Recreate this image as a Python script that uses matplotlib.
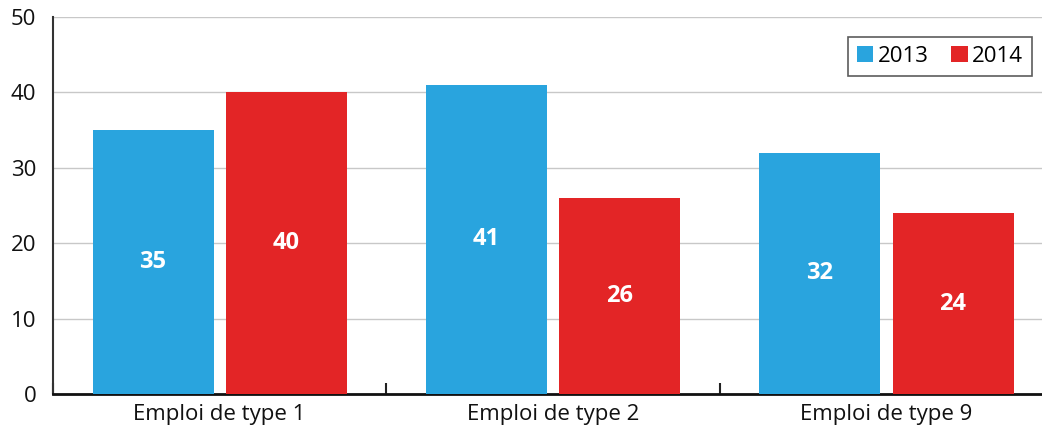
import matplotlib
matplotlib.use("Agg")
import matplotlib.pyplot as plt
import numpy as np

categories = ["Emploi de type 1", "Emploi de type 2", "Emploi de type 9"]
series_names = ["2013", "2014"]
values_2013 = [35, 41, 32]
values_2014 = [40, 26, 24]
yticks = [0, 10, 20, 30, 40, 50]

blue = "#29A4DE"
red = "#E32526"

plt.rcParams['font.family'] = ['Open Sans', 'DejaVu Sans']

fig = plt.figure(figsize=(10.42, 4.30), dpi=100)
ax = fig.add_axes([53/1042, 36/430, 1000/1042, 377/430])

x = np.arange(len(categories))
w = 0.363
off = 0.2
b1 = ax.bar(x - off, values_2013, w, color=blue, label=series_names[0], zorder=3)
b2 = ax.bar(x + off, values_2014, w, color=red, label=series_names[1], zorder=3)

for bars, vals in ((b1, values_2013), (b2, values_2014)):
    for rect, v in zip(bars, vals):
        ax.text(rect.get_x() + rect.get_width()/2, v/2, str(v), ha='center', va='center',
                color='white', fontsize=17, fontweight='bold', zorder=4)

ax.set_xlim(-0.5, 2.5)
ax.set_ylim(0, 50)
ax.set_yticks(yticks)
ax.set_yticklabels([str(t) for t in yticks], fontsize=16, color='#111111')
ax.tick_params(axis='y', length=0, pad=12)
ax.yaxis.grid(True, color='#c8c8c8', linewidth=1, zorder=0)

ax.set_xticks(x)
ax.set_xticklabels(categories, fontsize=16, color='#111111')
ax.tick_params(axis='x', which='major', length=0, pad=7)
ax.set_xticks([-0.5, 0.5, 1.5], minor=True)
ax.tick_params(axis='x', which='minor', direction='in', length=8, width=1.5, color='#222222')

for s in ['top', 'right']:
    ax.spines[s].set_visible(False)
ax.spines['left'].set_color('#333333')
ax.spines['left'].set_linewidth(1.5)
ax.spines['bottom'].set_color('#111111')
ax.spines['bottom'].set_linewidth(2)

leg = ax.legend(loc='upper right', bbox_to_anchor=(0.979, 0.947), fontsize=16, ncol=2,
                frameon=True, fancybox=False, edgecolor='#333333', handlelength=0.75,
                handleheight=0.75, handletextpad=0.2, columnspacing=1.0, borderpad=0.4,
                borderaxespad=0)
leg.get_frame().set_linewidth(1.2)

fig.savefig("out.png", dpi=100)
